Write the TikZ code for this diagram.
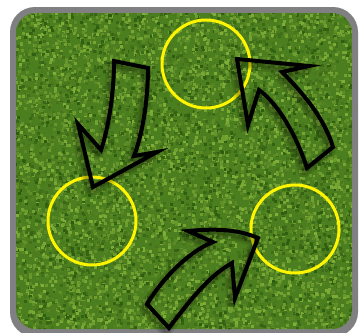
\documentclass[tikz,border=0pt]{standalone}
\usepackage{tikz}
\usetikzlibrary{calc}
\definecolor{grass}{RGB}{74,126,30}
\definecolor{grasslight}{RGB}{128,176,56}
\definecolor{grassdark}{RGB}{46,92,16}
\definecolor{framegray}{RGB}{128,128,130}
\definecolor{spotyellow}{RGB}{255,245,0}
\tikzset{
  spot/.style={draw=spotyellow, line width=3pt},
  turn/.style={draw=black, line width=4pt, line join=miter},
  turnshadow/.style={draw=black, opacity=0.1, line width=#1, line join=round, shift={(-3,4)}},
}

\begin{document}
\begin{tikzpicture}[x=1pt, y=-1pt]
    \useasboundingbox (0,0) rectangle (364,332);
    \fill[framegray, rounded corners=25pt] (10,7) rectangle (358,337);
    \begin{scope}
        \clip[rounded corners=20pt] (16,13) rectangle (352,329);
        \fill[grass] (16,13) rectangle (352,329);
        \pgfmathsetseed{7}
        \foreach \i in {1,...,9000} {
            \pgfmathsetmacro\px{14+340*rnd}
            \pgfmathsetmacro\py{11+320*rnd}
            \pgfmathsetmacro\mix{int(100*rnd)}
            \fill[grasslight!\mix!grassdark] (\px,\py) rectangle ++(3,3);
        }
    \end{scope}

    \draw[spot] (206,64) circle (44);
    \draw[spot] (92,221) circle (44);
    \draw[spot] (295,229) circle (44);

    \foreach \w in {11pt,7pt,4pt} {
        \draw[turnshadow=\w] (114,61) -- (148,68) .. controls (148,95) and (144,130) .. (134,156) -- (157,152) -- (93,187) -- (78,124) -- (101,150) .. controls (108,130) and (114,95) .. cycle;
        \draw[turnshadow=\w] (237,59) -- (309,66) -- (282,72) .. controls (305,95) and (325,120) .. (333,147) -- (307,168) .. controls (298,140) and (280,105) .. (259,90) -- (248,125) -- cycle;
        \draw[turnshadow=\w] (258,238) .. controls (235,228) and (210,229) .. (188,231) -- (213,242) .. controls (188,252) and (163,278) .. (147,304) -- (169,328) .. controls (190,300) and (210,275) .. (232,263) -- (235,298) -- cycle;
    }
    \draw[turn] (114,61) -- (148,68) .. controls (148,95) and (144,130) .. (134,156) -- (157,152) -- (93,187) -- (78,124) -- (101,150) .. controls (108,130) and (114,95) .. cycle;
    \draw[turn] (237,59) -- (309,66) -- (282,72) .. controls (305,95) and (325,120) .. (333,147) -- (307,168) .. controls (298,140) and (280,105) .. (259,90) -- (248,125) -- cycle;
    \draw[turn] (258,238) .. controls (235,228) and (210,229) .. (188,231) -- (213,242) .. controls (188,252) and (163,278) .. (147,304) -- (169,328) .. controls (190,300) and (210,275) .. (232,263) -- (235,298) -- cycle;
\end{tikzpicture}
\end{document}
